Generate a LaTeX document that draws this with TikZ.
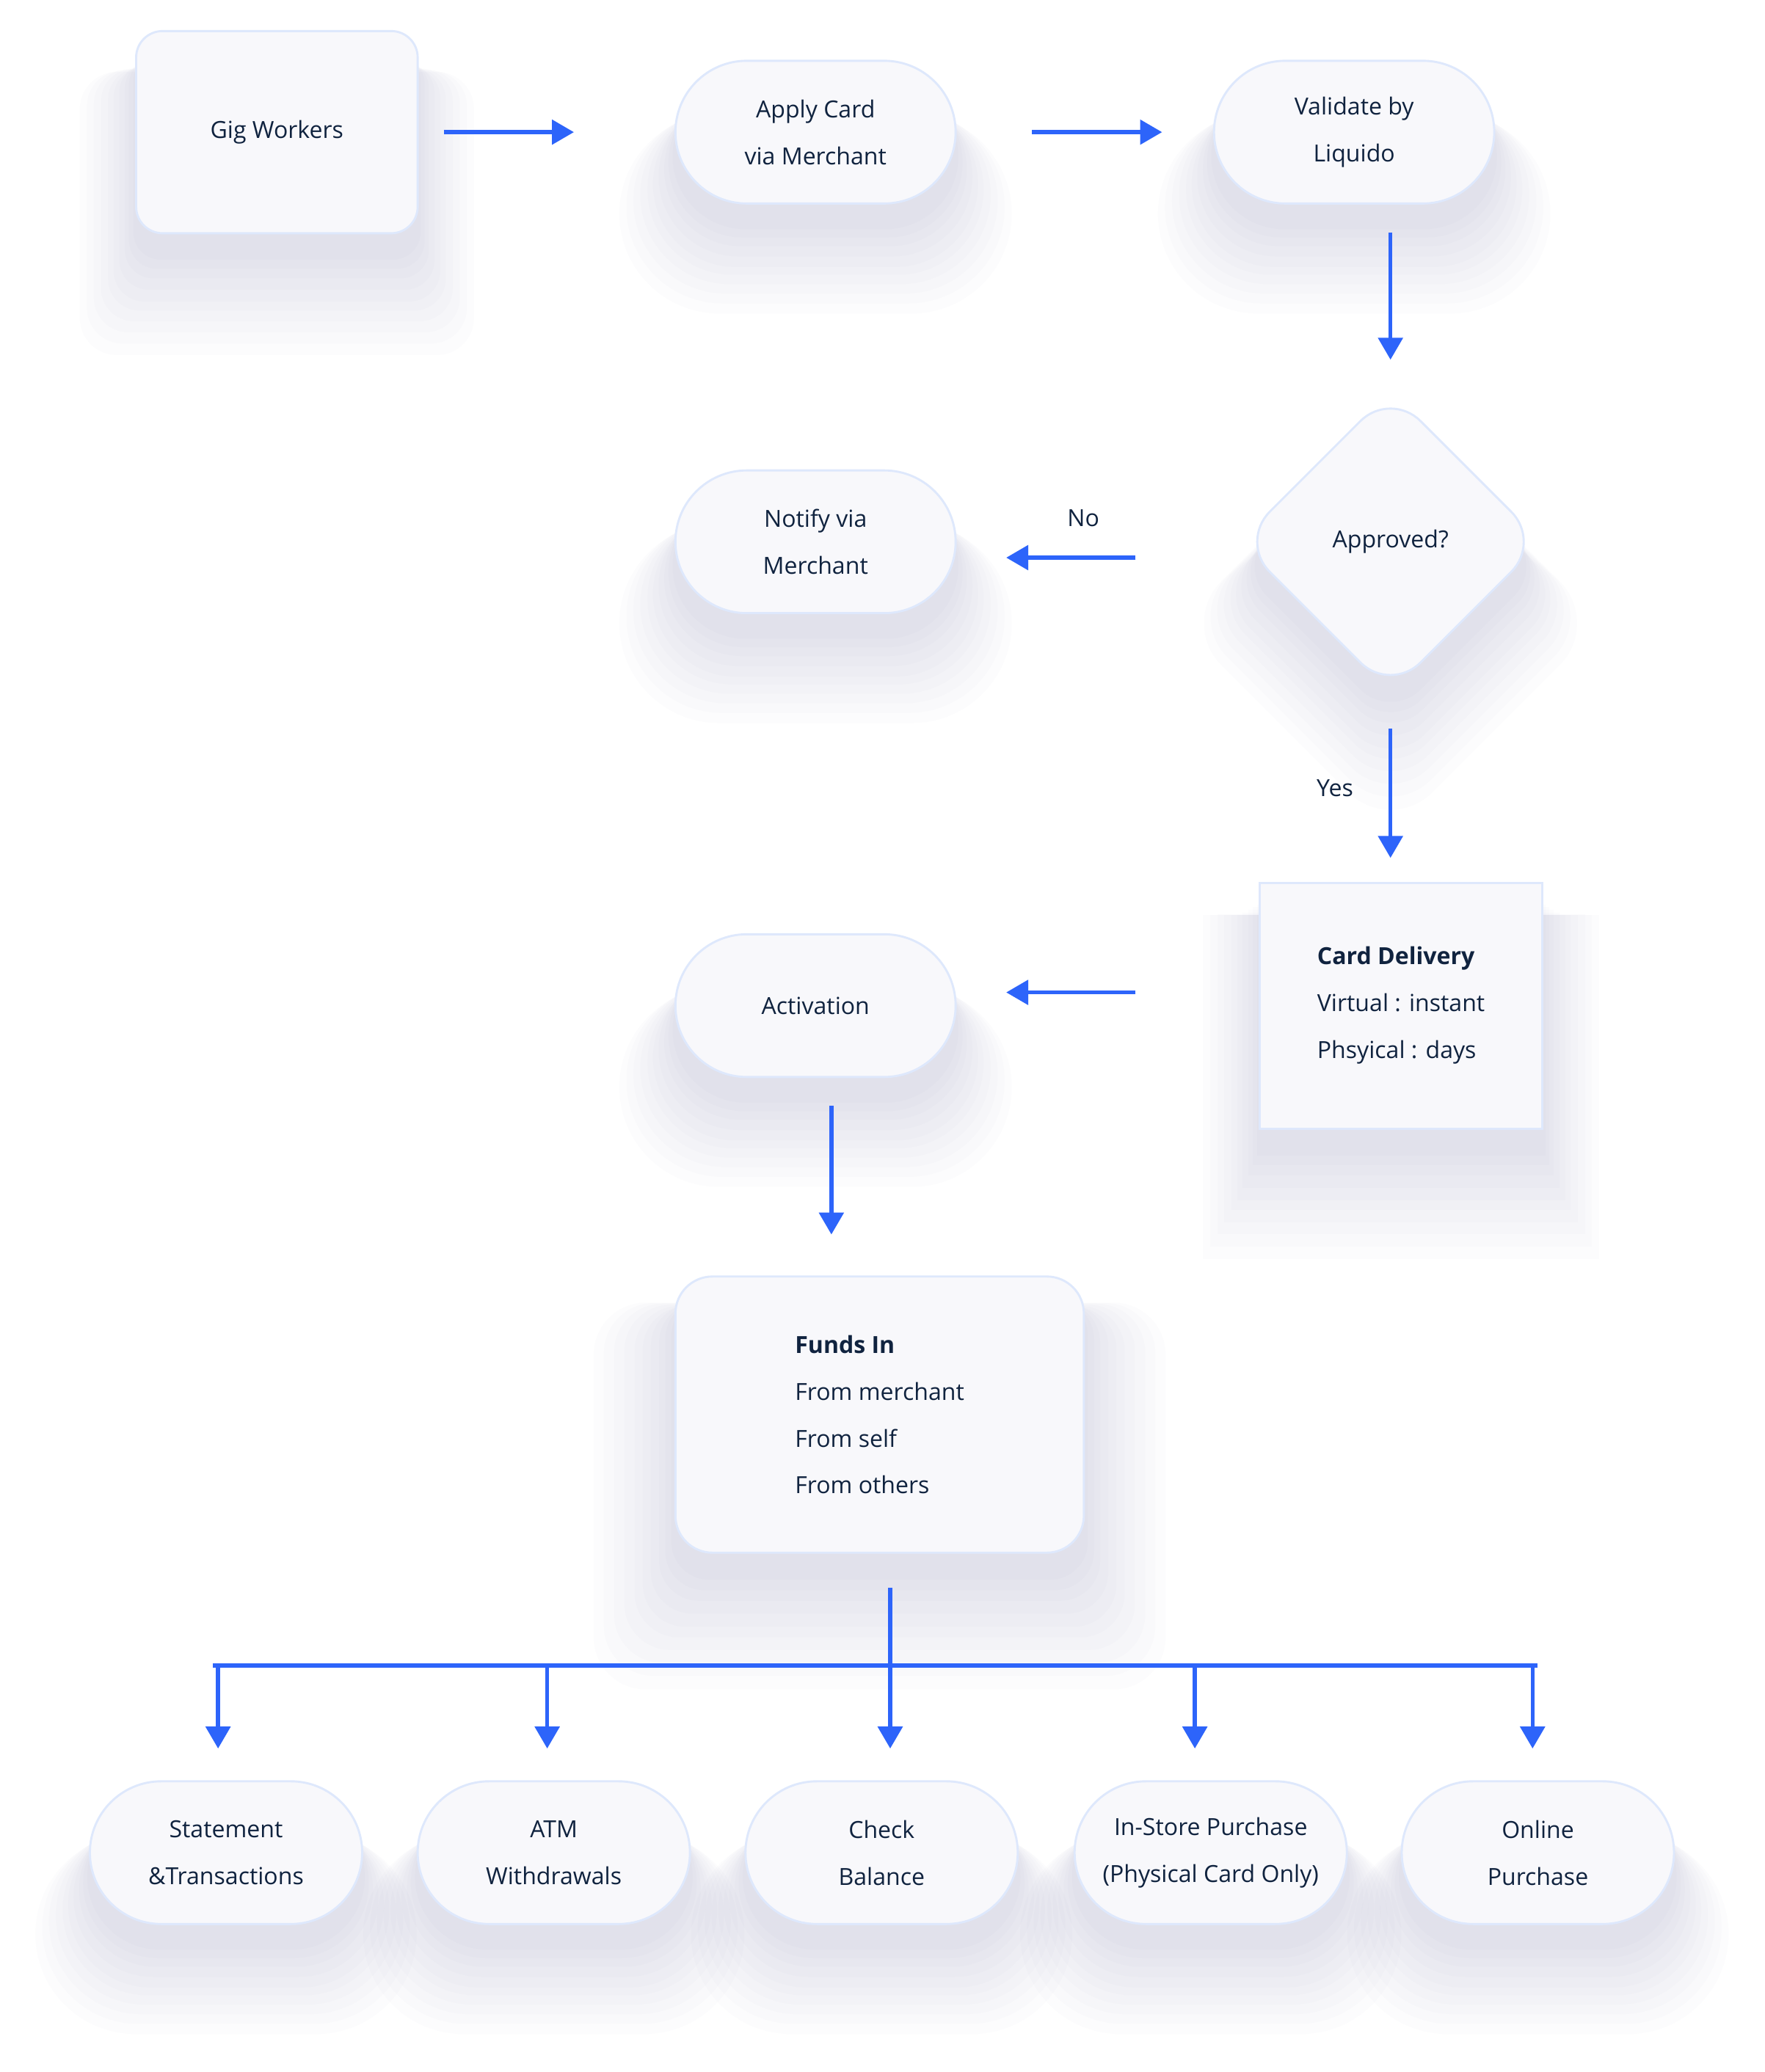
\documentclass[tikz,border=0pt]{standalone}
\usepackage{fontspec}
\setmainfont{Open Sans}
\definecolor{ink}{RGB}{16,35,63}
\definecolor{flowc}{RGB}{45,100,250}
\definecolor{cardc}{RGB}{248,248,251}
\definecolor{edgec}{RGB}{222,232,252}
\definecolor{haloc}{RGB}{130,140,185}
\usetikzlibrary{arrows.meta, shapes.geometric, shadows, calc}
\newcommand{\nodefont}{\fontsize{8.9pt}{17.75pt}\selectfont}

\begin{document}
\begin{tikzpicture}[x=0.5pt, y=-0.5pt,
    halo/.style={
      general shadow={fill=haloc, opacity=.025, shadow yshift=-22pt, shadow scale=1.40},
      general shadow={fill=haloc, opacity=.025, shadow yshift=-21pt, shadow scale=1.35},
      general shadow={fill=haloc, opacity=.025, shadow yshift=-20pt, shadow scale=1.30},
      general shadow={fill=haloc, opacity=.025, shadow yshift=-19pt, shadow scale=1.25},
      general shadow={fill=haloc, opacity=.025, shadow yshift=-18pt, shadow scale=1.20},
      general shadow={fill=haloc, opacity=.025, shadow yshift=-17pt, shadow scale=1.16},
      general shadow={fill=haloc, opacity=.025, shadow yshift=-15pt, shadow scale=1.12},
      general shadow={fill=haloc, opacity=.025, shadow yshift=-13pt, shadow scale=1.08},
      general shadow={fill=haloc, opacity=.025, shadow yshift=-11pt, shadow scale=1.05},
      general shadow={fill=haloc, opacity=.025, shadow yshift=-9pt, shadow scale=1.02}},
    card/.style={halo, draw=edgec, line width=.8pt, fill=cardc, text=ink,
      font=\nodefont, align=center, inner sep=0pt},
    pill/.style={card, rounded corners=27pt, minimum width=106pt, minimum height=54pt},
    leaf/.style={card, rounded corners=27pt, minimum width=103pt, minimum height=54pt},
    flow/.style={draw=flowc, line width=1.5pt, -{Triangle[length=8.3pt, width=9.2pt]}},
    busline/.style={draw=flowc, line width=1.6pt},
    tag/.style={text=ink, font=\nodefont}]

    \fill[white] (0,0) rectangle (1335,1568);
    \useasboundingbox (0,0) rectangle (1335,1568);

    %% Row 1: request
    \node[card, rounded corners=10pt, minimum width=106.5pt, minimum height=76.5pt]
      (gig) at (209.5,100) {Gig Workers};
    \node[pill] (apply) at (617,100) {Apply Card\\via Merchant};
    \node[pill] (validate) at (1024.5,100) {Validate by\\Liquido};

    %% Decision
    \node[card, diamond, rounded corners=16pt, minimum width=114.4pt, minimum height=114.4pt]
      (decide) at (1052,410) {Approved?};
    \node[pill] (notify) at (617,410) {Notify via\\Merchant};

    %% Delivery and activation
    \node[card, align=left, minimum width=107pt, minimum height=93pt]
      (delivery) at (1060,761) {\textbf{Card Delivery}\\Virtual : instant\\Phsyical : days};
    \node[pill] (activation) at (617,761) {Activation};

    %% Funds
    \node[card, align=left, rounded corners=14pt, minimum width=154.5pt, minimum height=104.5pt]
      (funds) at (665.5,1070.5) {\textbf{Funds In}\\From merchant\\From self\\From others};

    %% Uses
    \node[leaf] (stmt) at (171,1402) {Statement\\\&Transactions};
    \node[leaf] (atm) at (419,1402) {ATM\\Withdrawals};
    \node[leaf] (check) at (667,1402) {Check\\Balance};
    \node[leaf] (store) at (916,1402) {In-Store Purchase\\(Physical Card Only)};
    \node[leaf] (online) at (1163.5,1402) {Online\\Purchase};

    %% Arrows
    \draw[flow, shorten <=9.5pt, shorten >=38pt] (gig) -- (apply);
    \draw[flow, shorten <=28.5pt, shorten >=19.25pt] (apply) -- (validate);
    \draw[flow, shorten <=10.5pt, shorten >=11.3pt] (validate.south -| decide.north) -- (decide.north);
    \draw[flow, shorten <=38.8pt, shorten >=18.75pt] ([yshift=-6pt]decide.west) -- ([yshift=-6pt]notify.east)
      node[pos=.55, yshift=15pt, tag] {No};
    \draw[flow, shorten <=13.15pt, shorten >=9pt] (decide.south) -- (decide.south |- delivery.north)
      node[midway, xshift=-21pt, tag] {Yes};
    \draw[flow, shorten <=46.5pt, shorten >=18.75pt] ([yshift=5pt]delivery.west) -- ([yshift=5pt]activation.east);
    \draw[flow, shorten <=10.5pt, shorten >=15.5pt] ([xshift=6pt]activation.south) -- ([xshift=6pt]activation.south |- funds.north);

    %% Split to the uses
    \coordinate (bar) at (674,1260.5);
    \coordinate (barL) at (161,1260.5);
    \coordinate (barR) at (1163,1260.5);
    \draw[busline] (barL) -- (barR);
    \draw[flow, shorten <=13pt, shorten >=12pt] ([xshift=4pt]funds.south) -- ([xshift=4pt]funds.south |- check.north);
    \foreach \n/\dx in {stmt/-3pt, atm/-2.5pt, store/-6pt, online/-2pt}
      \draw[flow, shorten >=12pt] ($(\n.north |- bar)+(\dx,0)$) -- ($(\n.north)+(\dx,0)$);

\end{tikzpicture}
\end{document}
